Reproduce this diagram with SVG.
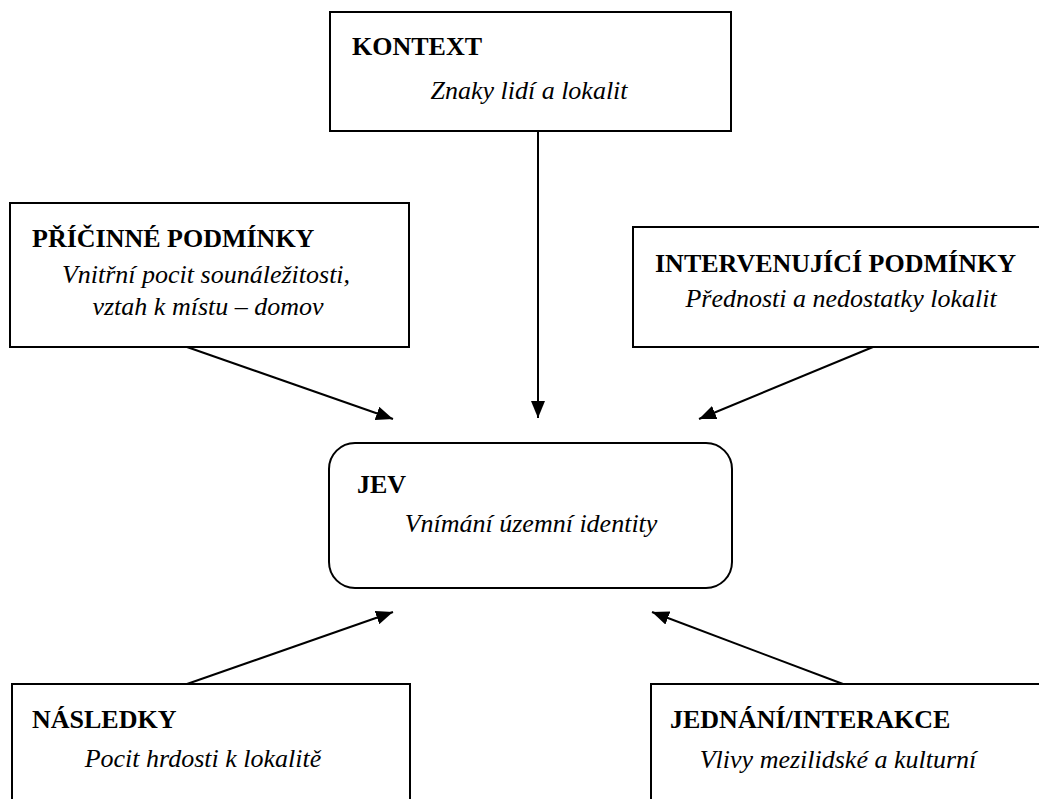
<svg xmlns="http://www.w3.org/2000/svg" width="1039" height="799" viewBox="0 0 1039 799">
<style>
.box{fill:#fff;stroke:#000;stroke-width:2}
.t{font-family:"Liberation Serif","Times New Roman",serif;font-size:26px;font-weight:bold;fill:#000}
.i{font-family:"Liberation Serif","Times New Roman",serif;font-size:26px;font-style:italic;fill:#000;text-anchor:middle}
.c{stroke:#000;stroke-width:2;fill:none;marker-end:url(#ah)}
</style>
<defs>
<marker id="ah" markerUnits="userSpaceOnUse" markerWidth="18" markerHeight="14" refX="17" refY="7" orient="auto">
<path d="M0,0 L17,7 L0,14 z" fill="#000"/>
</marker>
</defs>
<rect width="1039" height="799" fill="#fff"/>
<g id="kontext">
<rect class="box" x="330" y="12" width="401" height="119"/>
<text class="t" x="352" y="55">KONTEXT</text>
<text class="i" x="529" y="99">Znaky lidí a lokalit</text>
</g>
<g id="pricinne">
<rect class="box" x="10" y="203" width="399" height="144"/>
<text class="t" x="32" y="247">PŘÍČINNÉ PODMÍNKY</text>
<text class="i" x="206" y="283">Vnitřní pocit sounáležitosti,</text>
<text class="i" x="208" y="315">vztah k místu – domov</text>
</g>
<g id="intervenujici">
<rect class="box" x="633" y="227" width="420" height="120"/>
<text class="t" x="655" y="272">INTERVENUJÍCÍ PODMÍNKY</text>
<text class="i" x="841" y="307">Přednosti a nedostatky lokalit</text>
</g>
<g id="jev">
<rect class="box" x="329" y="443" width="403" height="145" rx="26" ry="26"/>
<text class="t" x="357" y="493">JEV</text>
<text class="i" x="531" y="532">Vnímání územní identity</text>
</g>
<g id="nasledky">
<rect class="box" x="12" y="684" width="398" height="130"/>
<text class="t" x="32" y="728">NÁSLEDKY</text>
<text class="i" x="203" y="767">Pocit hrdosti k lokalitě</text>
</g>
<g id="jednani">
<rect class="box" x="651" y="684" width="400" height="130"/>
<text class="t" x="670" y="728">JEDNÁNÍ/INTERAKCE</text>
<text class="i" x="838" y="768">Vlivy mezilidské a kulturní</text>
</g>
<g id="connectors">
<line class="c" x1="538" y1="131" x2="538" y2="418"/>
<line class="c" x1="187" y1="347" x2="393" y2="419"/>
<line class="c" x1="873" y1="347" x2="699" y2="419"/>
<line class="c" x1="187" y1="684" x2="393" y2="612"/>
<line class="c" x1="843" y1="684" x2="652" y2="612"/>
</g>
</svg>
